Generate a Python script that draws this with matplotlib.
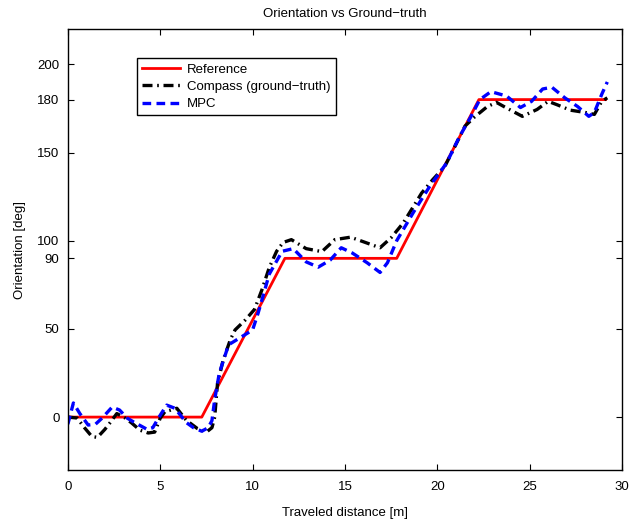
import matplotlib.pyplot as plt
import numpy as np

plt.rcParams['font.family'] = ['Liberation Sans', 'DejaVu Sans']

# Reference trajectory
ref_x = [0, 7.25, 11.75, 17.8, 22.25, 29.1]
ref_y = [0, 0, 90, 90, 180, 180]

# Compass (ground-truth)
comp_x = [0, 0.5, 0.9, 1.3, 1.6, 2.0, 2.3, 2.65, 3.1, 3.45, 3.9, 4.35, 4.7, 5.0,
          5.25, 5.9, 6.4, 7.0, 7.5, 7.8, 7.95, 8.1, 8.4, 8.8, 9.05, 9.6, 10.1,
          10.5, 10.9, 11.3, 11.65, 12.1, 12.9, 13.75, 14.45, 15.3, 16.0, 16.9,
          17.5, 18.15, 18.6, 19.15, 19.75, 20.4, 20.95, 21.5, 22.0, 22.7, 23.2,
          23.7, 24.6, 25.4, 26.0, 26.5, 27.2, 28.0, 28.5, 28.9, 29.2]
comp_y = [0, -0.5, -6, -11, -11.5, -7, -3, 2, -0.5, -3.3, -7.4, -9, -8.5, -0.6,
          3, 5, -1.7, -6.4, -8.5, -6, 0, 19, 32, 44, 49.4, 55, 61,
          72, 84.7, 94, 99, 100.6, 95.5, 93.8, 100.6, 102, 99.4, 96,
          101.7, 110, 117.6, 127, 134.6, 142, 153.4, 165, 170, 176, 178.4,
          175.5, 170.5, 174.4, 179, 177, 174, 172.7, 171.6, 179, 181]

# MPC
mpc_x = [0, 0.3, 0.65, 1.1, 1.5, 1.85, 2.4, 2.8, 3.2, 3.6, 4.3, 4.6, 4.9, 5.35,
         5.8, 6.4, 6.8, 7.25, 7.6, 7.8, 7.95, 8.2, 8.7, 9.4, 10.0, 10.3, 10.55,
         10.9, 11.6, 12.2, 12.9, 13.55, 14.2, 14.8, 15.4, 16.2, 16.9, 17.3,
         17.8, 18.7, 19.6, 20.5, 21.2, 21.8, 22.3, 22.9, 23.75, 24.5, 25.1,
         25.7, 26.2, 26.9, 27.6, 28.2, 28.5, 28.9, 29.2]
mpc_y = [-4, 8, 2, -4.5, -4, -0.6, 5.7, 4, -0.5, -3, -7, -6, -0.6, 6.8,
         5, -3, -6, -8, -6, -2, 10, 25, 41, 45.5, 49.4, 59, 68,
         81, 94, 95.5, 88, 85, 89, 96, 93, 87.5, 82, 87.5,
         100, 116, 131, 144, 159, 170, 180, 184.5, 182, 175.5, 179,
         186, 187, 181, 176, 170.5, 172.7, 183, 190]

yticks = [0, 50, 90, 100, 150, 180, 200]
xticks = [0, 5, 10, 15, 20, 25, 30]

fig = plt.figure(figsize=(6.4, 5.23), dpi=100)
ax = fig.add_axes([0.106, 0.1013, 0.866, 0.8432])

ax.plot(ref_x, ref_y, color='#ff0000', linewidth=2.0, label='Reference')
ax.plot(comp_x, comp_y, color='black', linewidth=2.4,
        linestyle=(0, (3.0, 1.4, 0.5, 1.4)), label='Compass (ground\u2212truth)')
ax.plot(mpc_x, mpc_y, color='#0000ff', linewidth=2.4,
        linestyle=(0, (2.6, 1.6)), label='MPC')

ax.set_xlim(0, 30)
ax.set_ylim(-30, 220)
ax.set_xticks(xticks)
ax.set_yticks(yticks)
ax.tick_params(direction='in', top=True, right=True, length=4, labelsize=9.5)
ax.tick_params(axis='x', pad=8)
ax.tick_params(axis='y', pad=6)
for s in ax.spines.values():
    s.set_linewidth(1.0)

ax.set_xlabel('Traveled distance [m]', fontsize=9.5, labelpad=10)
ax.set_ylabel('Orientation [deg]', fontsize=9.5, labelpad=8)
ax.set_title('Orientation vs Ground\u2212truth', fontsize=9.5, pad=9)

leg = ax.legend(loc='upper left', bbox_to_anchor=(0.1245, 0.934),
                borderaxespad=0, fontsize=9.5, fancybox=False,
                edgecolor='black', framealpha=1, handlelength=2.9,
                labelspacing=0.38, borderpad=0.4, handletextpad=0.5)
leg.get_frame().set_linewidth(1.0)

plt.savefig('out.png', dpi=100)
